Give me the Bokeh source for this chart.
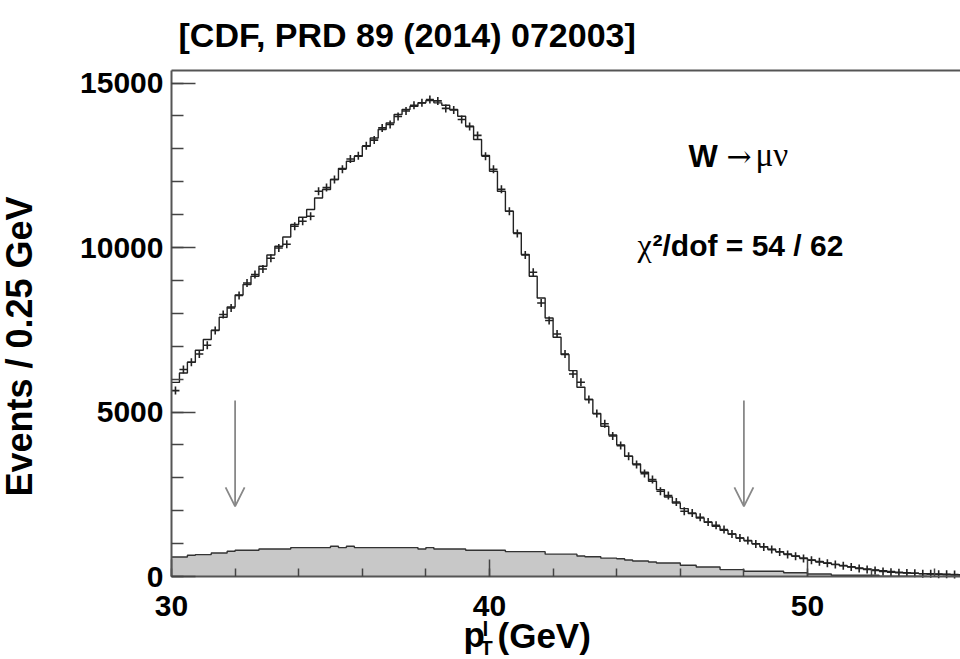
import math
import numpy as np
from bokeh.plotting import figure
from bokeh.models import Range1d, SingleIntervalTicker, Label, Arrow, OpenHead
from bokeh.embed import file_html
from bokeh.resources import INLINE

# ---------------- data ----------------
bin_start = 30.0
bin_width = 0.25
n_bins = 100

# model (simulation) histogram, events / 0.25 GeV
model = [
    5900, 6186, 6512, 6876, 7202, 7484, 7880, 8193, 8558, 8874,
    9126, 9430, 9770, 10038, 10321, 10698, 10920, 11154, 11506, 11762,
    12065, 12400, 12622, 12774, 13078, 13330, 13586, 13786, 14042, 14194,
    14294, 14396, 14467, 14396, 14324, 14194, 13990, 13686, 13281, 12795,
    12318, 11710, 11102, 10443, 9786, 9126, 8466, 7858, 7272, 6746,
    6259, 5752, 5378, 4952, 4566, 4300, 4000, 3654, 3420, 3168,
    2894, 2642, 2417, 2234, 2064, 1912, 1778, 1648, 1526, 1404,
    1292, 1170, 1091, 1000, 909, 827, 757, 684, 623, 560,
    505, 455, 410, 370, 330, 295, 260, 230, 200, 175,
    150, 130, 115, 100, 88, 78, 68, 60, 52, 46,
]

# data points
data = [
    5650, 6290, 6512, 6764, 7028, 7475, 7962, 8163, 8540, 8922,
    9178, 9345, 9675, 9986, 10100, 10646, 10798, 10950, 11710, 11820,
    12065, 12380, 12692, 12785, 13090, 13265, 13635, 13737, 13980, 14150,
    14320, 14396, 14498, 14456, 14228, 14183, 13890, 13675, 13408, 12774,
    12380, 11770, 11102, 10428, 9775, 9248, 8315, 7779, 7372, 6764,
    6156, 5904, 5378, 4952, 4642, 4272, 3979, 3654, 3401, 3128,
    2946, 2590, 2459, 2265, 1982, 1930, 1800, 1657, 1556, 1426,
    1292, 1170, 1091, 988, 897, 818, 745, 670, 614, 550,
    495, 445, 405, 365, 330, 290, 245, 215, 185, 150,
    130, 115, 105, 100, 85, 80, 72, 65, 58, 50,
]

# background histogram (grey)
background = [
    593, 593, 644, 665, 665, 715, 715, 766, 796, 796,
    796, 837, 837, 837, 837, 878, 878, 878, 878, 878,
    918, 878, 918, 878, 878, 878, 878, 878, 878, 878,
    878, 837, 878, 837, 837, 837, 837, 796, 796, 796,
    796, 796, 755, 755, 755, 755, 755, 680, 680, 680,
    680, 625, 600, 600, 558, 558, 540, 500, 472, 472,
    440, 410, 410, 410, 340, 340, 289, 289, 289, 210,
    210, 210, 158, 158, 158, 158, 158, 115, 115, 115,
    76, 76, 76, 36, 36, 36, 36, 36, 36, 10,
    8, 8, 8, 6, 6, 5, 5, 4, 4, 4,
]

# fit-window arrows
arrow_x = [32, 48]
arrow_from = 5350
arrow_to = 2130

x_major = 10
y_major = 5000

edges = bin_start + bin_width * np.arange(n_bins + 1)
centers = edges[:-1] + bin_width / 2

# ---------------- geometry ----------------
W, H = 960, 659
X0_PIX, X_SCALE = 171, 31.8        # pixel of x=30, px per GeV
Y0_PIX, Y_SCALE = 576, 0.0329      # pixel of y=0, px per event
BOX_TOP_PIX = 70

x_lo = bin_start - X0_PIX / X_SCALE
x_hi = bin_start + (W - X0_PIX) / X_SCALE
y_lo = -(H - Y0_PIX) / Y_SCALE
y_hi = Y0_PIX / Y_SCALE
y_top = (Y0_PIX - BOX_TOP_PIX) / Y_SCALE

p = figure(width=W, height=H, title="",
           x_range=Range1d(x_lo, x_hi), y_range=Range1d(y_lo, y_hi),
           output_backend="svg", toolbar_location=None,
           min_border_left=0, min_border_right=0,
           min_border_top=0, min_border_bottom=0)
p.title.visible = False
p.background_fill_color = "white"
p.border_fill_color = "white"
p.outline_line_color = None
p.xgrid.visible = False
p.ygrid.visible = False

FRAME = "#555555"

# background
p.varea_step(x=edges, y1=0, y2=list(background) + [background[-1]],
             step_mode="after", fill_color="#c8c8c8")
p.step(x=edges, y=list(background) + [background[-1]], mode="after",
       line_color="#333333", line_width=1.4)

# model histogram
p.step(x=edges, y=list(model) + [model[-1]], mode="after",
       line_color="#222222", line_width=1.4)

# data points
p.scatter(x=centers, y=data, marker="cross", size=8,
          line_color="#222222", line_width=1.6)

# top border of the box
p.segment(x0=[bin_start], y0=[y_top], x1=[x_hi], y1=[y_top],
          line_color=FRAME, line_width=2)

# arrows
for ax in arrow_x:
    p.add_layout(Arrow(end=OpenHead(size=19, line_color="#888888", line_width=1.8),
                       x_start=ax, y_start=arrow_from, x_end=ax, y_end=arrow_to,
                       line_color="#888888", line_width=1.8))

# axes (drawn at the box edges)
FONT = "Liberation Sans"
p.xaxis.fixed_location = 0
p.yaxis.fixed_location = bin_start
p.xaxis.bounds = (bin_start, x_hi)
p.yaxis.bounds = (0, y_top)
for ax in (p.xaxis[0], p.yaxis[0]):
    ax.axis_line_color = FRAME
    ax.axis_line_width = 2
    ax.major_tick_line_color = "#444444"
    ax.minor_tick_line_color = "#444444"
    ax.major_tick_line_width = 1.5
    ax.minor_tick_line_width = 1.5
    ax.major_tick_out = 0
    ax.minor_tick_out = 0
    ax.major_label_text_font = FONT
    ax.major_label_text_font_style = "bold"
    ax.major_label_text_font_size = "30px"
    ax.major_label_text_color = "black"

p.xaxis.ticker = SingleIntervalTicker(interval=x_major, num_minor_ticks=5)
p.yaxis.ticker = SingleIntervalTicker(interval=y_major, num_minor_ticks=5)
p.xaxis.major_tick_in = 17
p.xaxis.minor_tick_in = 8
p.yaxis.major_tick_in = 24
p.yaxis.minor_tick_in = 12
p.xaxis.major_label_standoff = 19
p.yaxis.major_label_standoff = 8

BASE_SHIFT = 0.4   # em, correction for the rendered baseline position


def lab(text, px, py, size, style="bold", font=FONT, angle=0.0, **kw):
    """Place a text whose baseline starts at canvas pixel (px, py) (top-left origin)."""
    shift = BASE_SHIFT * size
    if angle:
        px -= shift
    else:
        py -= shift
    p.add_layout(Label(x=px, y=H - py, x_units="screen", y_units="screen",
                       text=text, text_font=font, text_font_style=style,
                       text_font_size=f"{size}px", text_color="black",
                       angle=angle, text_baseline="alphabetic",
                       text_align=kw.pop("align", "left"), **kw))


# title
lab("[CDF, PRD 89 (2014) 072003]", 178, 48, 34)

# y axis title
lab("Events / 0.25 GeV", 33, 346, 36, angle=math.pi / 2, align="center")

# x axis title: p_T^l (GeV)
lab("p", 463, 648, 35)
lab("l", 482, 636, 21)
lab("T", 480, 655, 20)
lab("(GeV)", 497, 649, 35)

# annotations in the plot
lab("W", 688, 168, 31)
lab("\u2192", 726, 168, 30, style="normal", font="DejaVu Serif")
lab("\u03bc\u03bd", 755, 168, 33, style="normal", font="Liberation Serif")
lab("\u03c7", 637, 257, 32, style="normal", font="Liberation Serif")
lab("\u00b2/dof = 54 / 62", 652, 257, 30)

open("out.html", "w").write(file_html(p, INLINE))
